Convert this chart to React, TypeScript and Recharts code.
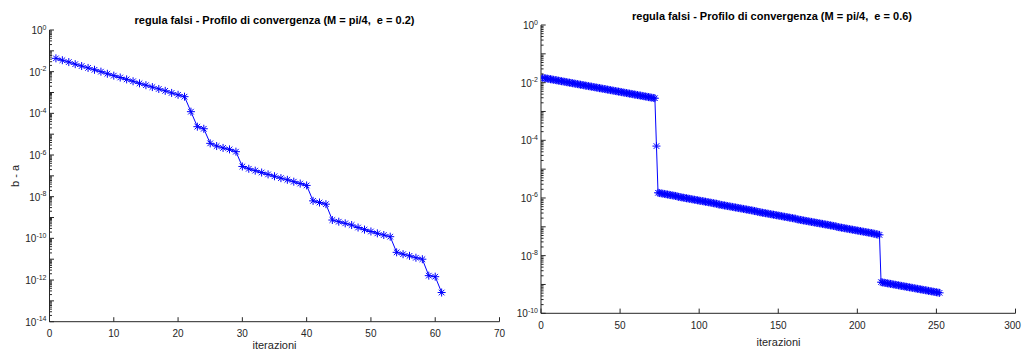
import React from 'react';
import { LineChart, Line, XAxis, YAxis } from 'recharts';

const FONT = '"Liberation Sans", Arial, Helvetica, sans-serif';
const AX = '#262626';
const BLUE = '#0000ff';

const leftTitle = 'regula falsi - Profilo di convergenza (M = pi/4,  e = 0.2)';
const rightTitle = 'regula falsi - Profilo di convergenza (M = pi/4,  e = 0.6)';
const xLabel = 'iterazioni';
const yLabel = 'b - a';

const leftXTicks = [0, 10, 20, 30, 40, 50, 60, 70];
const rightXTicks = [0, 50, 100, 150, 200, 250, 300];
const leftLabelExps = [0, -2, -4, -6, -8, -10, -12, -14];
const rightLabelExps = [0, -2, -4, -6, -8, -10];

// log10(b - a) per iteration, e = 0.2
const leftLog10 = [
  -1.36, -1.45, -1.54, -1.64, -1.73, -1.82, -1.91, -2.0, -2.1, -2.19,
  -2.28, -2.37, -2.46, -2.56, -2.65, -2.74, -2.83, -2.92, -3.02, -3.11,
  -3.2, -3.92, -4.64, -4.74, -5.44, -5.57, -5.66, -5.73, -5.84, -6.55,
  -6.66, -6.75, -6.84, -6.93, -7.02, -7.11, -7.19, -7.28, -7.37, -7.46,
  -8.2, -8.28, -8.36, -9.12, -9.2, -9.28, -9.36, -9.48, -9.58, -9.67,
  -9.76, -9.84, -9.92, -10.67, -10.76, -10.84, -10.93, -11.0, -11.79, -11.84,
  -12.6,
];

// log10(b - a) per iteration, e = 0.6
const rightLog10 = [
  -1.83, -1.84, -1.85, -1.86, -1.87, -1.88, -1.89, -1.9, -1.91, -1.92, -1.93, -1.94, -1.95, -1.96, -1.97, -1.98, -1.99,
  -2.0, -2.01, -2.02, -2.03, -2.04, -2.05, -2.06, -2.07, -2.08, -2.09,
  -2.1, -2.11, -2.12, -2.13, -2.14, -2.15, -2.16, -2.17, -2.18, -2.19,
  -2.2, -2.21, -2.22, -2.23, -2.24, -2.25, -2.26, -2.27, -2.28, -2.29,
  -2.3, -2.31, -2.32, -2.33, -2.34, -2.35, -2.36, -2.37, -2.38, -2.39,
  -2.4, -2.41, -2.42, -2.43, -2.44, -2.45, -2.46, -2.47, -2.48, -2.49,
  -2.5, -2.51, -2.52, -2.53, -2.54,
  -4.2,
  -5.82, -5.83, -5.84, -5.85, -5.86, -5.87, -5.88, -5.89, -5.9, -5.91, -5.92, -5.93, -5.94,
  -5.96, -5.97, -5.98, -5.99,
  -6.0, -6.01, -6.02, -6.03, -6.04, -6.05, -6.06, -6.07, -6.08, -6.09,
  -6.1, -6.11, -6.12, -6.13, -6.14, -6.15, -6.16, -6.17, -6.18, -6.19, -6.2,
  -6.22, -6.23, -6.24, -6.25, -6.26, -6.27, -6.28, -6.29,
  -6.3, -6.31, -6.32, -6.33, -6.34, -6.35, -6.36, -6.37, -6.38, -6.39,
  -6.4, -6.41, -6.42, -6.43, -6.44, -6.45, -6.46,
  -6.48, -6.49,
  -6.5, -6.51, -6.52, -6.53, -6.54, -6.55, -6.56, -6.57, -6.58, -6.59,
  -6.6, -6.61, -6.62, -6.63, -6.64, -6.65, -6.66, -6.67, -6.68, -6.69,
  -6.7, -6.71, -6.72,
  -6.74, -6.75, -6.76, -6.77, -6.78, -6.79,
  -6.8, -6.81, -6.82, -6.83, -6.84, -6.85, -6.86, -6.87, -6.88, -6.89,
  -6.9, -6.91, -6.92, -6.93, -6.94, -6.95, -6.96, -6.97, -6.98,
  -7.0, -7.01, -7.02, -7.03, -7.04, -7.05, -7.06, -7.07, -7.08, -7.09,
  -7.1, -7.11, -7.12, -7.13, -7.14, -7.15, -7.16, -7.17, -7.18, -7.19,
  -7.2, -7.21, -7.22, -7.23, -7.24,
  -7.26, -7.27, -7.28,
  -8.92, -8.93, -8.94, -8.95, -8.96, -8.97, -8.98, -8.99,
  -9.0, -9.01, -9.02, -9.03, -9.04, -9.05, -9.06, -9.07, -9.08, -9.09,
  -9.1, -9.11, -9.12, -9.13, -9.14, -9.15, -9.16, -9.17, -9.18, -9.19,
  -9.2, -9.21, -9.22, -9.23, -9.24, -9.25, -9.26, -9.27, -9.28, -9.29,
];

const buildData = (exps: number[]) =>
  exps.map((e, i) => ({ iter: i + 1, value: Math.pow(10, e) }));

const leftData = buildData(leftLog10);
const rightData = buildData(rightLog10);

const logTicks = (minExp: number, maxExp: number) => {
  const t: number[] = [];
  for (let e = minExp; e < maxExp; e++) {
    for (let m = 1; m < 10; m++) t.push(m * Math.pow(10, e));
  }
  t.push(Math.pow(10, maxExp));
  return t;
};

const leftYTicks = logTicks(-14, 0);
const rightYTicks = logTicks(-10, 0);

const decadeOf = (v: number) => {
  const l = Math.log10(v);
  const e = Math.round(l);
  return Math.abs(l - e) < 1e-6 ? e : null;
};

const renderStar = (p: any) => {
  const { cx, cy, index } = p;
  if (cx == null || cy == null) return <g key={`s-${index}`} />;
  const a = 4;
  const b = 2.8;
  return (
    <g key={`s-${index}`} stroke={BLUE} strokeWidth={1} fill="none">
      <line x1={cx - a} y1={cy} x2={cx + a} y2={cy} />
      <line x1={cx} y1={cy - a} x2={cx} y2={cy + a} />
      <line x1={cx - b} y1={cy - b} x2={cx + b} y2={cy + b} />
      <line x1={cx - b} y1={cy + b} x2={cx + b} y2={cy - b} />
    </g>
  );
};

const makeXTick = (side: 'bottom' | 'top', labelDy: number, len: number, maxX: number) => (p: any) => {
  const { x, y, payload } = p;
  const dir = side === 'bottom' ? -1 : 1;
  const label = String(payload.value);
  const half = label.length * 2.8;
  const lx = Math.min(x, maxX - half);
  return (
    <g>
      <line x1={x} x2={x} y1={y} y2={y + dir * len} stroke={AX} strokeWidth={1} />
      {side === 'bottom' && (
        <text x={lx} y={y + labelDy} textAnchor="middle" fontSize={10} fontFamily={FONT} fill={AX}>
          {label}
        </text>
      )}
    </g>
  );
};

const makeYTick = (side: 'left' | 'right', labelExps: number[], len: number) => (p: any) => {
  const { x, y, payload } = p;
  const e = decadeOf(payload.value);
  const dir = side === 'left' ? 1 : -1;
  const l = e !== null ? len : len * 0.55;
  const showLabel = side === 'left' && e !== null && labelExps.includes(e);
  return (
    <g>
      <line x1={x} x2={x + dir * l} y1={y} y2={y} stroke={AX} strokeWidth={1} />
      {showLabel && (
        <text x={x - 3} y={y + 4} textAnchor="end" fontSize={10} fontFamily={FONT} fill={AX}>
          10
          <tspan fontSize={7} dy={-4.5}>{String(e)}</tspan>
        </text>
      )}
    </g>
  );
};

type PanelProps = {
  data: { iter: number; value: number }[];
  width: number;
  height: number;
  top: number;
  right: number;
  yAxisWidth: number;
  xAxisHeight: number;
  xDomain: [number, number];
  xTicks: number[];
  yDomain: [number, number];
  yTicks: number[];
  labelExps: number[];
  xLabelDy: number;
  tickLen: number;
};

const Panel = (p: PanelProps) => (
  <LineChart
    width={p.width}
    height={p.height}
    data={p.data}
    margin={{ top: p.top, right: p.right, bottom: 0, left: 0 }}
  >
    <XAxis
      dataKey="iter"
      type="number"
      domain={p.xDomain}
      ticks={p.xTicks}
      interval={0}
      allowDataOverflow
      height={p.xAxisHeight}
      tickSize={0}
      tickMargin={0}
      axisLine={{ stroke: AX, strokeWidth: 1 }}
      tickLine={false}
      tick={makeXTick('bottom', p.xLabelDy, p.tickLen, p.width - 1)}
    />
    <XAxis
      xAxisId="top"
      orientation="top"
      dataKey="iter"
      type="number"
      domain={p.xDomain}
      ticks={p.xTicks}
      interval={0}
      allowDataOverflow
      height={0}
      tickSize={0}
      tickMargin={0}
      axisLine={{ stroke: AX, strokeWidth: 1 }}
      tickLine={false}
      tick={makeXTick('top', 0, p.tickLen, p.width - 1)}
    />
    <YAxis
      dataKey="value"
      type="number"
      scale="log"
      domain={p.yDomain}
      ticks={p.yTicks}
      interval={0}
      allowDataOverflow
      width={p.yAxisWidth}
      tickSize={0}
      tickMargin={0}
      axisLine={{ stroke: AX, strokeWidth: 1 }}
      tickLine={false}
      tick={makeYTick('left', p.labelExps, p.tickLen)}
    />
    <YAxis
      yAxisId="right"
      orientation="right"
      dataKey="value"
      type="number"
      scale="log"
      domain={p.yDomain}
      ticks={p.yTicks}
      interval={0}
      allowDataOverflow
      width={0}
      tickSize={0}
      tickMargin={0}
      axisLine={{ stroke: AX, strokeWidth: 1 }}
      tickLine={false}
      tick={makeYTick('right', p.labelExps, p.tickLen)}
    />
    <Line
      dataKey="value"
      stroke={BLUE}
      strokeWidth={1}
      dot={renderStar}
      activeDot={false}
      isAnimationActive={false}
    />
  </LineChart>
);

export default function App() {
  return (
    <div
      style={{
        position: 'absolute',
        left: 0,
        top: 0,
        width: 1022,
        height: 351,
        background: '#fff',
        overflow: 'hidden',
      }}
    >
      <div style={{ position: 'absolute', left: 0, top: 0 }}>
        <Panel
          data={leftData}
          width={510}
          height={351}
          top={30}
          right={10.5}
          yAxisWidth={49.5}
          xAxisHeight={29.3}
          xDomain={[0, 70]}
          xTicks={leftXTicks}
          yDomain={[1e-14, 1]}
          yTicks={leftYTicks}
          labelExps={leftLabelExps}
          xLabelDy={15}
          tickLen={4.5}
        />
      </div>
      <div style={{ position: 'absolute', left: 510, top: 0 }}>
        <Panel
          data={rightData}
          width={512}
          height={351}
          top={25}
          right={6.5}
          yAxisWidth={31}
          xAxisHeight={37.7}
          xDomain={[0, 300]}
          xTicks={rightXTicks}
          yDomain={[1e-10, 1]}
          yTicks={rightYTicks}
          labelExps={rightLabelExps}
          xLabelDy={16}
          tickLen={4.7}
        />
      </div>
      <svg
        width={1022}
        height={351}
        style={{ position: 'absolute', left: 0, top: 0, pointerEvents: 'none' }}
      >
        <text
          x={274.5}
          y={24.3}
          textAnchor="middle"
          fontSize={11}
          fontWeight="bold"
          fontFamily={FONT}
          fill="#000"
          style={{ whiteSpace: 'pre' }}
        >
          {leftTitle}
        </text>
        <text
          x={632}
          y={19.5}
          textAnchor="start"
          fontSize={11}
          fontWeight="bold"
          fontFamily={FONT}
          fill="#000"
          style={{ whiteSpace: 'pre' }}
        >
          {rightTitle}
        </text>
        <text x={274.5} y={349} textAnchor="middle" fontSize={11} fontFamily={FONT} fill={AX}>
          {xLabel}
        </text>
        <text x={778.5} y={345.5} textAnchor="middle" fontSize={11} fontFamily={FONT} fill={AX}>
          {xLabel}
        </text>
        <text
          x={18.5}
          y={176}
          textAnchor="middle"
          fontSize={11}
          fontFamily={FONT}
          fill={AX}
          transform="rotate(-90 18.5 176)"
          style={{ whiteSpace: 'pre' }}
        >
          {yLabel}
        </text>
      </svg>
    </div>
  );
}
